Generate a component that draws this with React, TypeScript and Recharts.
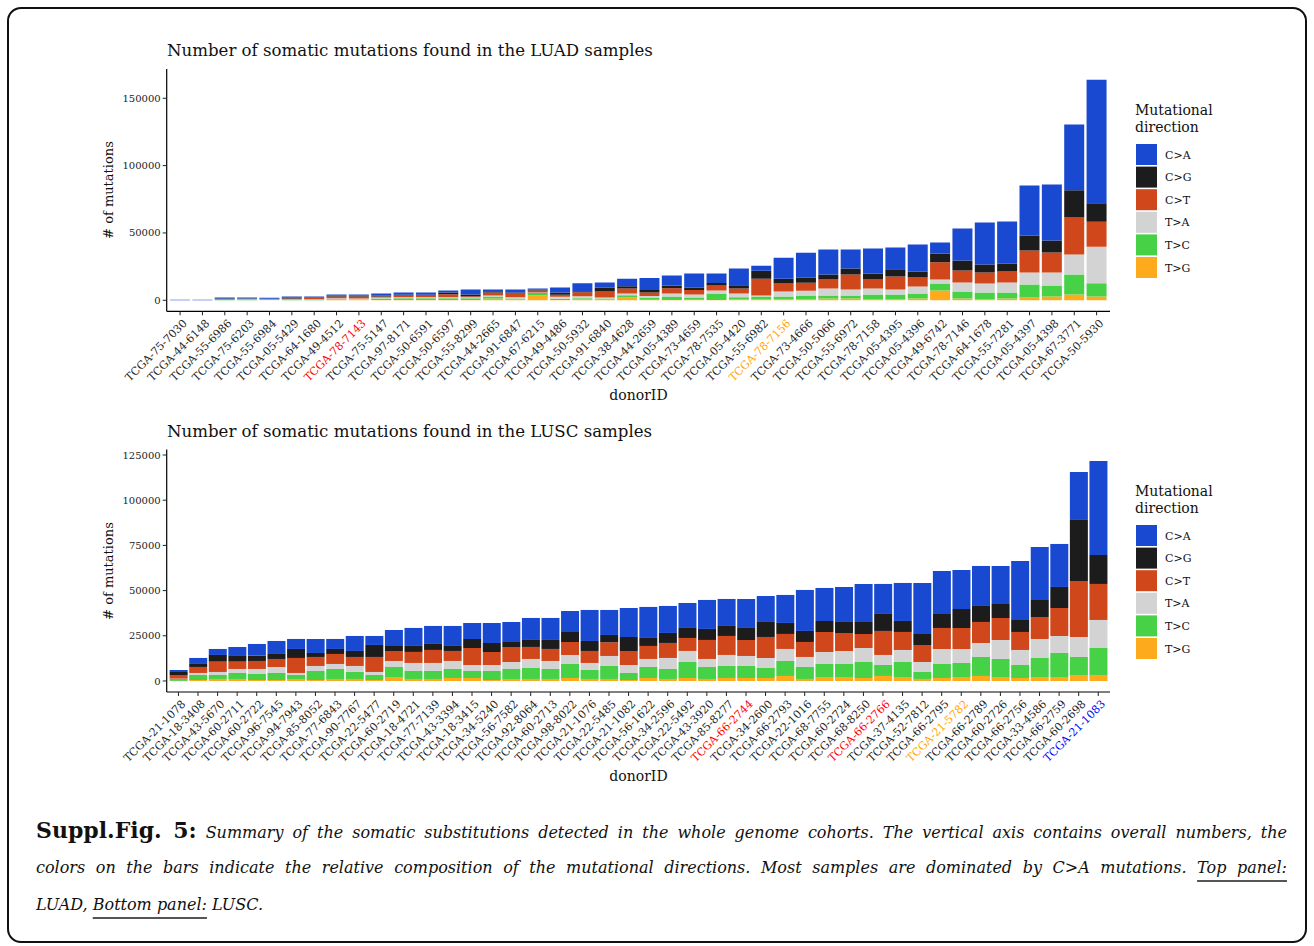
import React from 'react';
import { BarChart, Bar, XAxis, YAxis } from 'recharts';

const FONT = "'DejaVu Serif', serif";

// Mutational directions, in legend order (top of stack first)
const mutationTypes = ['C>A', 'C>G', 'C>T', 'T>A', 'T>C', 'T>G'];
const typeKeys = ['CA', 'CG', 'CT', 'TA', 'TC', 'TG'];
const typeColors = ['#1a49d1', '#1c1c1c', '#d0471b', '#d3d3d3', '#46d147', '#fdab1d'];

// ---- LUAD cohort ----
const luadDonors = [
  'TCGA-75-7030', 'TCGA-44-6148', 'TCGA-55-6986', 'TCGA-75-6203', 'TCGA-55-6984', 'TCGA-05-5429',
  'TCGA-64-1680', 'TCGA-49-4512', 'TCGA-78-7143', 'TCGA-75-5147', 'TCGA-97-8171', 'TCGA-50-6591',
  'TCGA-50-6597', 'TCGA-55-8299', 'TCGA-44-2665', 'TCGA-91-6847', 'TCGA-67-6215', 'TCGA-49-4486',
  'TCGA-50-5932', 'TCGA-91-6840', 'TCGA-38-4628', 'TCGA-44-2659', 'TCGA-05-4389', 'TCGA-73-4659',
  'TCGA-78-7535', 'TCGA-05-4420', 'TCGA-55-6982', 'TCGA-78-7156', 'TCGA-73-4666', 'TCGA-50-5066',
  'TCGA-55-6972', 'TCGA-78-7158', 'TCGA-05-4395', 'TCGA-05-4396', 'TCGA-49-6742', 'TCGA-78-7146',
  'TCGA-64-1678', 'TCGA-55-7281', 'TCGA-05-4397', 'TCGA-05-4398', 'TCGA-67-3771', 'TCGA-50-5930',
];
const luadCA = [450, 420, 740, 740, 740, 740, 500, 740, 740, 1490, 1490, 1490, 1490, 3710, 1240, 2230, 740, 3710, 5940, 3710, 5690, 8900, 7430, 10400, 6930, 12380, 3710, 15590, 18560, 18560, 14110, 18560, 16090, 20050, 8170, 23760, 31190, 31190, 37130, 41580, 48760, 91820];
const luadCG = [0, 0, 500, 150, 100, 740, 250, 740, 740, 740, 740, 650, 1240, 1240, 990, 740, 740, 1490, 740, 2970, 1730, 1730, 1980, 1980, 1980, 2480, 5940, 3710, 3710, 3710, 4460, 4460, 5440, 4460, 6440, 7430, 5940, 5940, 11140, 8910, 20300, 13610];
const luadCT = [0, 0, 200, 400, 450, 500, 1240, 1240, 1490, 740, 1240, 1330, 2230, 740, 2230, 2720, 1490, 1490, 2970, 4460, 3710, 2720, 3960, 3220, 3710, 3710, 12620, 5940, 5940, 6680, 11140, 6680, 9650, 6680, 12870, 8910, 8170, 8170, 16340, 14850, 27470, 18560];
const luadTA = [0, 0, 100, 150, 450, 100, 200, 740, 500, 740, 740, 700, 740, 740, 740, 990, 200, 1490, 1490, 740, 1240, 1490, 2230, 2230, 2230, 2720, 740, 3710, 3710, 5200, 4460, 4460, 3710, 5200, 2970, 6680, 6680, 7430, 8910, 9650, 14850, 27220];
const luadTC = [0, 0, 400, 450, 60, 540, 430, 600, 100, 1100, 1300, 1350, 1300, 1300, 1490, 500, 2030, 1000, 1000, 740, 1730, 1240, 2470, 1730, 4700, 1490, 1980, 1980, 2720, 2230, 2230, 3470, 3470, 3710, 5200, 5200, 4950, 4460, 9650, 8170, 14850, 9900];
const luadTG = [0, 0, 50, 100, 20, 100, 100, 150, 640, 140, 180, 170, 180, 190, 1240, 740, 3460, 220, 500, 500, 1980, 400, 250, 400, 250, 740, 740, 740, 740, 1240, 1240, 740, 740, 1240, 7180, 1240, 740, 1240, 1980, 2720, 4210, 2720];
const luadTicks = [0, 50000, 100000, 150000];
const luadRed = ['TCGA-78-7143'];
const luadOrange = ['TCGA-78-7156'];

// ---- LUSC cohort ----
const luscDonors = [
  'TCGA-21-1078', 'TCGA-18-3408', 'TCGA-43-5670', 'TCGA-60-2711', 'TCGA-60-2722', 'TCGA-96-7545',
  'TCGA-94-7943', 'TCGA-85-8052', 'TCGA-77-6843', 'TCGA-90-7767', 'TCGA-22-5477', 'TCGA-60-2719',
  'TCGA-18-4721', 'TCGA-77-7139', 'TCGA-43-3394', 'TCGA-18-3415', 'TCGA-34-5240', 'TCGA-56-7582',
  'TCGA-92-8064', 'TCGA-60-2713', 'TCGA-98-8022', 'TCGA-21-1076', 'TCGA-22-5485', 'TCGA-21-1082',
  'TCGA-56-1622', 'TCGA-34-2596', 'TCGA-22-5492', 'TCGA-43-3920', 'TCGA-85-8277', 'TCGA-66-2744',
  'TCGA-34-2600', 'TCGA-66-2793', 'TCGA-22-1016', 'TCGA-68-7755', 'TCGA-60-2724', 'TCGA-68-8250',
  'TCGA-66-2766', 'TCGA-37-4135', 'TCGA-52-7812', 'TCGA-66-2795', 'TCGA-21-5782', 'TCGA-66-2789',
  'TCGA-60-2726', 'TCGA-66-2756', 'TCGA-33-4586', 'TCGA-66-2759', 'TCGA-60-2698', 'TCGA-21-1083',
];
const luscCA = [1110, 3320, 3320, 4980, 6450, 7190, 5530, 7740, 5530, 8300, 4980, 8850, 9960, 9960, 11060, 8850, 11060, 11060, 12170, 12170, 11620, 17150, 13830, 16040, 17150, 14940, 13830, 16040, 14940, 16040, 14380, 15490, 22680, 18260, 19360, 21020, 16600, 21020, 28210, 23790, 21570, 22130, 21020, 32640, 29320, 23790, 26550, 52000];
const luscCG = [1660, 1660, 3690, 3130, 2950, 2770, 4980, 2210, 2770, 3320, 6640, 2770, 3320, 3320, 2770, 4980, 4980, 2770, 3870, 4980, 5530, 5530, 4060, 7740, 4430, 5530, 5530, 6090, 5530, 6640, 8300, 6090, 6090, 6090, 6090, 6640, 9400, 6090, 6090, 7740, 10510, 8850, 7740, 6640, 9400, 11620, 33750, 16040];
const luscCT = [2030, 3320, 5720, 4060, 4430, 4430, 8300, 4980, 5530, 4980, 8300, 5530, 6090, 7190, 5530, 9400, 7190, 8300, 6640, 6640, 7190, 6640, 7560, 7740, 7190, 8300, 7190, 10510, 10510, 8850, 11620, 8300, 8300, 11060, 9960, 7740, 13280, 9960, 9400, 11620, 11620, 11620, 12170, 9960, 12170, 15490, 30980, 19920];
const luscTA = [180, 1110, 1660, 2210, 2770, 3320, 1110, 2770, 2770, 3320, 1660, 3320, 4430, 4430, 4430, 3320, 3320, 3870, 4980, 4430, 4980, 3870, 5530, 4430, 4430, 6090, 6090, 4430, 6090, 5530, 5530, 6640, 5530, 6640, 7190, 7740, 5530, 6640, 5530, 8300, 7740, 7740, 10510, 8300, 10510, 9400, 11060, 15490];
const luscTC = [1040, 2770, 2210, 3320, 3320, 3870, 2210, 4980, 5530, 3870, 2770, 5530, 4430, 4430, 4980, 3870, 4980, 5530, 6090, 5530, 7740, 4980, 7190, 3870, 6090, 5530, 8850, 6640, 6640, 6640, 5530, 8300, 6640, 7190, 7190, 8850, 6090, 8300, 3870, 7740, 7740, 10510, 9960, 7190, 10510, 13280, 9960, 14940];
const luscTG = [60, 550, 1110, 1110, 550, 550, 1110, 550, 1110, 1110, 550, 2210, 1110, 1110, 1660, 1660, 550, 1110, 1110, 1110, 1660, 1110, 1110, 550, 1660, 1110, 1660, 1110, 1660, 1660, 1660, 2770, 1110, 2210, 2210, 1660, 2770, 2210, 1110, 1660, 2210, 2770, 2210, 1660, 2210, 2210, 3320, 3320];
const luscTicks = [0, 25000, 50000, 75000, 100000, 125000];
const luscRed = ['TCGA-66-2744', 'TCGA-66-2766'];
const luscOrange = ['TCGA-21-5782'];
const luscBlue = ['TCGA-21-1083'];

type Row = { donor: string; [k: string]: number | string };

function buildRows(donors: string[], series: number[][]): Row[] {
  return donors.map((donor, i) => {
    const row: Row = { donor };
    typeKeys.forEach((k, j) => {
      row[k] = series[j][i];
    });
    return row;
  });
}

const luadRows = buildRows(luadDonors, [luadCA, luadCG, luadCT, luadTA, luadTC, luadTG]);
const luscRows = buildRows(luscDonors, [luscCA, luscCG, luscCT, luscTA, luscTC, luscTG]);

function labelColor(name: string, red: string[], orange: string[], blue: string[]) {
  if (red.includes(name)) return '#ff0000';
  if (orange.includes(name)) return '#ffa500';
  if (blue.includes(name)) return '#0000ff';
  return '#1e1e1e';
}

const CHART_W = 1314;
const CHART_H = 400;
const PLOT_LEFT = 166.7;
const PLOT_RIGHT = 1110;
const Y_AXIS_W = 60;
const X_AXIS_H = 70;

type PanelProps = {
  top: number;
  plotTop: number;
  plotBottom: number;
  rows: Row[];
  domain: [number, number];
  ticks: number[];
  pad: number;
  red: string[];
  orange: string[];
  blue: string[];
};

function MutationPanel({ top, plotTop, plotBottom, rows, domain, ticks, pad, red, orange, blue }: PanelProps) {
  const renderTick = (props: any) => {
    const { x, y, payload } = props;
    const name = String(payload.value);
    const ax = x + 3;
    const ay = y + 2;
    return (
      <text
        x={ax}
        y={ay}
        dy="0.6em"
        transform={`rotate(-45 ${ax} ${ay})`}
        textAnchor="end"
        fontSize={11}
        fontFamily={FONT}
        fill={labelColor(name, red, orange, blue)}
      >
        {name}
      </text>
    );
  };
  // stack drawn from the bottom: T>G first, C>A last
  const order = [5, 4, 3, 2, 1, 0];
  return (
    <div style={{ position: 'absolute', left: 0, top }}>
      <BarChart
        width={CHART_W}
        height={CHART_H}
        data={rows}
        barCategoryGap="5%"
        margin={{
          top: plotTop,
          right: CHART_W - PLOT_RIGHT,
          left: PLOT_LEFT - Y_AXIS_W,
          bottom: CHART_H - plotBottom - X_AXIS_H,
        }}
      >
        <XAxis
          dataKey="donor"
          interval={0}
          height={X_AXIS_H}
          tickSize={4}
          tickMargin={2}
          padding={{ left: pad, right: pad }}
          axisLine={{ stroke: '#000', strokeWidth: 1.2 }}
          tickLine={{ stroke: '#222', strokeWidth: 1 }}
          tick={renderTick}
        />
        <YAxis
          type="number"
          domain={domain}
          ticks={ticks}
          allowDataOverflow
          width={Y_AXIS_W}
          tickSize={4}
          tickMargin={2}
          axisLine={{ stroke: '#000', strokeWidth: 1.2 }}
          tickLine={{ stroke: '#222', strokeWidth: 1 }}
          tick={{ fontSize: 10, fill: '#222', fontFamily: FONT }}
        />
        {order.map((j) => (
          <Bar
            key={typeKeys[j]}
            dataKey={typeKeys[j]}
            name={mutationTypes[j]}
            stackId="mut"
            fill={typeColors[j]}
            isAnimationActive={false}
          />
        ))}
      </BarChart>
    </div>
  );
}

function PanelTexts({ dy, title }: { dy: number; title: string }) {
  return (
    <g transform={`translate(0 ${dy})`} fontFamily={FONT}>
      <text x={167} y={56} fontSize={16.6} fill="#111">{title}</text>
      <text
        x={108}
        y={190}
        fontSize={13}
        fill="#111"
        textAnchor="middle"
        dominantBaseline="central"
        transform={`rotate(-90 108 190)`}
      >
        # of mutations
      </text>
      <text x={638.5} y={400} fontSize={14} fill="#111" textAnchor="middle">donorID</text>
      <text x={1135} y={115} fontSize={14} fill="#111">Mutational</text>
      <text x={1135} y={131.5} fontSize={14} fill="#111">direction</text>
      {mutationTypes.map((m, k) => (
        <g key={m}>
          <rect x={1136} y={144 + k * 22.6} width={21} height={21} fill={typeColors[k]} />
          <text x={1165} y={144 + k * 22.6 + 14.5} fontSize={11} fill="#111">{m}</text>
        </g>
      ))}
    </g>
  );
}

const underline: React.CSSProperties = {
  textDecoration: 'underline',
  textDecorationColor: '#555',
  textDecorationThickness: '1.5px',
  textUnderlineOffset: '7px',
};

const captionLine: React.CSSProperties = {
  position: 'absolute',
  left: 36,
  width: 1251,
  fontFamily: FONT,
  fontStyle: 'italic',
  fontSize: 16,
  lineHeight: '24px',
  color: '#111',
  textAlign: 'justify',
  textAlignLast: 'justify',
};

export default function App() {
  return (
    <div style={{ position: 'absolute', left: 0, top: 0, width: 1314, height: 946, background: '#fff' }}>
      <div
        style={{
          position: 'absolute',
          left: 7,
          top: 7,
          width: 1300,
          height: 936,
          boxSizing: 'border-box',
          border: '2px solid #111',
          borderRadius: 14,
        }}
      />
      <MutationPanel
        top={0}
        plotTop={69}
        plotBottom={311.3}
        rows={luadRows}
        domain={[-8180, 171730]}
        ticks={luadTicks}
        pad={2.2}
        red={luadRed}
        orange={luadOrange}
        blue={[]}
      />
      <MutationPanel
        top={381}
        plotTop={68.4}
        plotBottom={311}
        rows={luscRows}
        domain={[-6100, 128100]}
        ticks={luscTicks}
        pad={1.96}
        red={luscRed}
        orange={luscOrange}
        blue={luscBlue}
      />
      <svg
        width={1314}
        height={946}
        style={{ position: 'absolute', left: 0, top: 0, pointerEvents: 'none' }}
      >
        <PanelTexts dy={0} title="Number of somatic mutations found in the LUAD samples" />
        <PanelTexts dy={381} title="Number of somatic mutations found in the LUSC samples" />
      </svg>
      <div style={{ ...captionLine, top: 818 }}>
        <span style={{ fontStyle: 'normal', fontWeight: 'bold', fontSize: 22 }}>Suppl.Fig. 5:</span>{' '}
        Summary of the somatic substitutions detected in the whole genome cohorts. The vertical axis contains
        overall numbers, the
      </div>
      <div style={{ ...captionLine, top: 856 }}>
        colors on the bars indicate the relative composition of the mutational directions. Most samples are
        dominated by C&gt;A mutations. <span style={underline}>Top panel:</span>
      </div>
      <div style={{ ...captionLine, top: 893, textAlign: 'left', textAlignLast: 'left' }}>
        LUAD, <span style={underline}>Bottom panel:</span> LUSC.
      </div>
    </div>
  );
}
